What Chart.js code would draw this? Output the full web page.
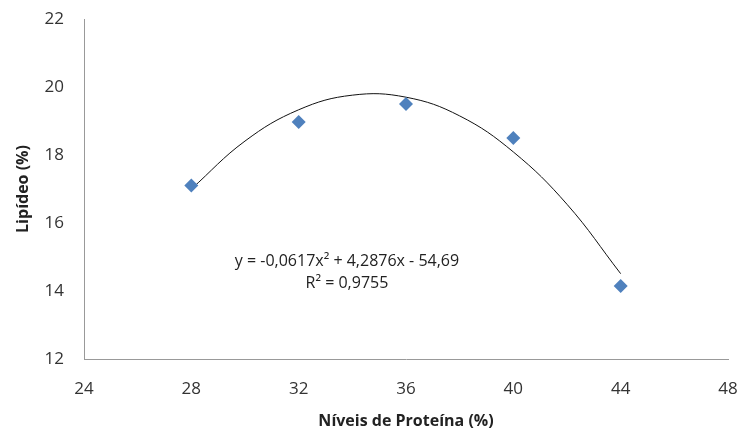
<!DOCTYPE html>
<html>
<head>
<meta charset="utf-8">
<script src="https://cdn.jsdelivr.net/npm/chart.js@4"></script>
<style>
  body { margin: 0; background: #fff; }
  #wrap { width: 741px; height: 441px; }
</style>
</head>
<body>
<div id="wrap"><canvas id="lipChart"></canvas></div>
<script>
// measured points
const proteina = [28, 32, 36, 40, 44];
const lipideo = [17.1, 18.97, 19.5, 18.5, 14.15];

// trendline
const trendX = [28, 30, 32, 34, 36, 38, 40, 42, 44];
const trendY = [17.0, 18.41, 19.33, 19.76, 19.7, 19.15, 18.09, 16.55, 14.51];

const eqLines = ['y = -0,0617x² + 4,2876x - 54,69', 'R² = 0,9755'];
const eqPos = { x: 33.8, y: 14.55 };

const font = "'Open Sans', 'Noto Sans', sans-serif";

const eqPlugin = {
    id: 'eqText',
    afterDatasetsDraw(chart) {
        const { ctx, scales } = chart;
        const cx = scales.x.getPixelForValue(eqPos.x);
        const cy = scales.y.getPixelForValue(eqPos.y);
        ctx.save();
        ctx.font = '16px ' + font;
        ctx.fillStyle = '#222';
        ctx.textAlign = 'center';
        ctx.textBaseline = 'middle';
        ctx.fillText(eqLines[0], cx, cy - 11);
        ctx.fillText(eqLines[1], cx, cy + 11);
        ctx.restore();
    }
};

const ctx = document.getElementById('lipChart').getContext('2d');
new Chart(ctx, {
    type: 'scatter',
    data: {
        datasets: [
            {
                label: 'Lipídeo',
                data: proteina.map((x, i) => ({ x: x, y: lipideo[i] })),
                pointStyle: 'rectRot',
                pointRadius: 7,
                pointHoverRadius: 7,
                backgroundColor: '#4f81bd',
                borderWidth: 0
            },
            {
                label: 'Polinomial',
                type: 'line',
                data: trendX.map((x, i) => ({ x: x, y: trendY[i] })),
                borderColor: '#111',
                borderWidth: 1,
                pointRadius: 0,
                tension: 0.4,
                fill: false
            }
        ]
    },
    options: {
        responsive: true,
        maintainAspectRatio: false,
        animation: false,
        layout: { padding: { top: 19, right: 13, left: 10, bottom: 6 } },
        plugins: {
            legend: { display: false },
            tooltip: { enabled: false }
        },
        scales: {
            x: {
                type: 'linear',
                min: 24,
                max: 48,
                ticks: { stepSize: 4, color: '#333', font: { family: font, size: 17 }, padding: 20 },
                grid: { display: false, drawTicks: false },
                border: { color: '#999', width: 1 },
                title: {
                    display: true,
                    text: 'Níveis de Proteína (%)',
                    color: '#222',
                    font: { family: font, size: 16, weight: 'bold' }
                },
                afterFit(scale) {
                    scale.height = 76;
                    scale.paddingLeft = 0;
                    scale.paddingRight = 0;
                }
            },
            y: {
                min: 12,
                max: 22,
                ticks: { stepSize: 2, color: '#333', font: { family: font, size: 17 }, padding: 20 },
                grid: { display: false, drawTicks: false },
                border: { color: '#999', width: 1 },
                title: {
                    display: true,
                    text: 'Lipídeo (%)',
                    color: '#222',
                    font: { family: font, size: 16, weight: 'bold' }
                },
                afterFit(scale) {
                    scale.width = 74;
                    scale.paddingTop = 0;
                    scale.paddingBottom = 0;
                }
            }
        }
    },
    plugins: [eqPlugin]
});
</script>
</body>
</html>
